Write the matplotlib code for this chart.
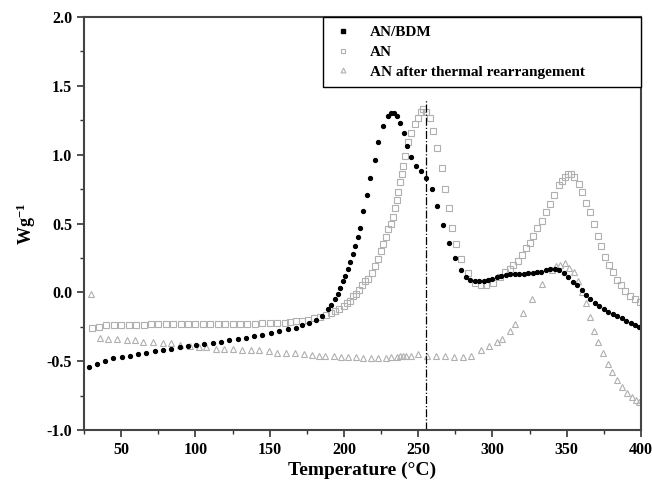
import numpy as np
import matplotlib.pyplot as plt
from matplotlib.lines import Line2D

plt.rcParams['font.family'] = ['Liberation Serif', 'DejaVu Serif']
plt.rcParams['font.weight'] = 'bold'
plt.rcParams['mathtext.default'] = 'regular'

# AN/BDM (filled black dots)
bdm_t = [28.6, 33.5, 39.0, 44.6, 50.2, 55.8, 61.4, 67.0, 72.5, 78.0, 83.6, 89.3,
         95.0, 100.5, 106.0, 111.6, 117.2, 122.8, 128.4, 134.0, 139.5, 145.0, 150.7,
         156.3, 162.0, 167.5, 172.0, 176.4, 181.0, 185.3, 189.3, 191.5, 193.8, 195.7,
         197.6, 199.5, 201.0, 202.5, 204.0, 205.8, 207.6, 209.3, 211.0, 213.0, 215.5,
         217.7, 220.6, 223.0, 226.6, 230.0, 232.0, 234.0, 236.0, 237.8, 240.6, 242.7,
         245.4, 248.7, 252.0, 255.0, 259.0, 263.0, 267.0, 271.0, 275.0, 279.0, 282.0,
         285.0, 288.0, 291.0, 294.0, 297.0, 300.0, 303.0, 306.0, 309.0, 312.0, 315.0,
         318.0, 321.0, 324.0, 327.0, 330.0, 333.0, 336.0, 339.0, 342.0, 345.0, 348.0,
         351.0, 354.0, 357.0, 360.0, 363.0, 366.0, 369.0, 372.0, 375.0, 378.0, 381.0,
         384.0, 387.0, 390.0, 393.0, 396.0, 399.0]
bdm_v = [-0.54, -0.52, -0.50, -0.48, -0.47, -0.46, -0.45, -0.44, -0.43, -0.42, -0.41, -0.40,
         -0.39, -0.38, -0.375, -0.37, -0.36, -0.35, -0.34, -0.33, -0.32, -0.31, -0.295,
         -0.28, -0.27, -0.26, -0.24, -0.22, -0.20, -0.17, -0.12, -0.09, -0.05, -0.01,
         0.03, 0.08, 0.12, 0.17, 0.22, 0.28, 0.34, 0.40, 0.47, 0.59, 0.71,
         0.83, 0.96, 1.09, 1.21, 1.28, 1.30, 1.30, 1.28, 1.23, 1.16, 1.06,
         0.98, 0.92, 0.88, 0.83, 0.75, 0.63, 0.49, 0.36, 0.25, 0.16, 0.11,
         0.09, 0.08, 0.08, 0.085, 0.09, 0.10, 0.11, 0.12, 0.125, 0.13, 0.13,
         0.135, 0.135, 0.14, 0.14, 0.145, 0.15, 0.16, 0.17, 0.17, 0.16, 0.14,
         0.11, 0.075, 0.05, 0.02, -0.02, -0.05, -0.075, -0.10, -0.12, -0.14, -0.16,
         -0.175, -0.19, -0.21, -0.225, -0.24, -0.255]

# AN (open grey squares)
an_t = [30, 35, 40, 45, 50, 55, 60, 65, 70, 75, 80, 85, 90, 95, 100, 105, 110, 115,
        120, 125, 130, 135, 140, 145, 150, 155, 160, 164, 168, 172, 176, 180, 184,
        188, 191, 194, 197, 200, 202, 204, 206, 208, 210, 212, 214, 216, 218.8, 221,
        223, 225, 226.6, 228.5, 230, 231.6, 233.3, 234.5, 235.5, 236.6, 237.8, 238.8,
        239.8, 241.3, 243, 245.4, 248, 250, 251.7, 253.4, 255.5, 257.8, 260, 263,
        265.7, 268, 270.6, 273, 275.7, 279, 283.5, 288, 292.4, 296, 300.7, 305.2,
        308.5, 311.5, 314, 316.9, 319.8, 322.7, 325.4, 327.6, 330.3, 333.3, 336.2,
        338.9, 341.6, 344.5, 346.7, 348.6, 350.6, 352.6, 354.6, 358, 360.2, 363.1,
        365.8, 368.5, 370.8, 373, 376, 378.2, 381.1, 383.8, 386.5, 389.4, 392.8,
        396.2, 399.6]
an_v = [-0.26, -0.25, -0.24, -0.24, -0.235, -0.235, -0.235, -0.235, -0.23, -0.23, -0.23,
        -0.23, -0.23, -0.23, -0.23, -0.23, -0.23, -0.23, -0.23, -0.23, -0.23, -0.23,
        -0.23, -0.225, -0.225, -0.22, -0.22, -0.215, -0.21, -0.21, -0.20, -0.19, -0.18,
        -0.165, -0.15, -0.135, -0.12, -0.10, -0.08, -0.06, -0.03, -0.01, 0.02, 0.05,
        0.08, 0.10, 0.14, 0.19, 0.24, 0.30, 0.35, 0.40, 0.46, 0.50, 0.55, 0.61, 0.67,
        0.73, 0.80, 0.86, 0.92, 0.99, 1.09, 1.16, 1.22, 1.27, 1.31, 1.33, 1.31, 1.27,
        1.17, 1.05, 0.90, 0.75, 0.61, 0.47, 0.35, 0.24, 0.14, 0.07, 0.05, 0.05, 0.07,
        0.11, 0.15, 0.17, 0.20, 0.23, 0.27, 0.32, 0.36, 0.41, 0.47, 0.52, 0.58, 0.64,
        0.71, 0.78, 0.81, 0.84, 0.86, 0.86, 0.84, 0.79, 0.73, 0.65, 0.58, 0.50, 0.41,
        0.34, 0.26, 0.20, 0.15, 0.09, 0.05, 0.01, -0.03, -0.05, -0.07]

# AN after thermal rearrangement (open grey triangles)
tr_t = [29.5, 35.7, 41.3, 46.9, 53.6, 59, 64.6, 71.3, 78, 83.6, 89.3, 96, 102.7, 107,
        113.7, 119.3, 125, 131.6, 137.2, 142.8, 149.5, 155, 160.7, 167, 173, 178.5, 183,
        187.5, 193, 198, 203, 208, 213, 218, 223, 228, 232, 236, 238, 240, 242, 245, 250,
        256, 262, 268, 274, 280, 285.5, 292.4, 298, 303, 306.3, 312, 315.3, 320.9, 326.5,
        333.3, 340, 343, 345.6, 349, 351.9, 354.6, 357.5, 360.2, 363.1, 365.8, 368.5,
        371.4, 374.4, 377.5, 380.4, 383.8, 387.2, 390.6, 394, 396.5, 399]
tr_v = [-0.01, -0.33, -0.34, -0.34, -0.35, -0.35, -0.36, -0.36, -0.37, -0.37, -0.38, -0.39,
        -0.40, -0.40, -0.41, -0.41, -0.41, -0.42, -0.42, -0.42, -0.43, -0.44, -0.44, -0.44,
        -0.45, -0.455, -0.46, -0.46, -0.465, -0.47, -0.47, -0.47, -0.475, -0.475, -0.475,
        -0.475, -0.47, -0.47, -0.465, -0.465, -0.46, -0.46, -0.445, -0.46, -0.465, -0.465,
        -0.47, -0.47, -0.46, -0.42, -0.39, -0.36, -0.34, -0.28, -0.23, -0.15, -0.05, 0.06,
        0.16, 0.19, 0.20, 0.21, 0.18, 0.15, 0.08, 0.00, -0.08, -0.18, -0.28, -0.36, -0.44,
        -0.52, -0.58, -0.64, -0.69, -0.73, -0.76, -0.78, -0.80]

marker_line_t = 255

fig = plt.figure(figsize=(6.52, 4.88), dpi=100)
ax = fig.add_axes([0.129, 0.119, 0.854, 0.846])

grey = '#b0b0b0'
ax.plot(tr_t, tr_v, linestyle='none', marker='^', markersize=4.2, markerfacecolor='none',
        markeredgecolor=grey, markeredgewidth=0.8)
ax.plot(an_t, an_v, linestyle='none', marker='s', markersize=3.8, markerfacecolor='none',
        markeredgecolor=grey, markeredgewidth=0.8)
ax.plot(bdm_t, bdm_v, linestyle='none', marker='o', markersize=2.8, color='black')
ax.plot([marker_line_t, marker_line_t], [-1.0, 1.4], color='black', linestyle='-.',
        linewidth=0.9)

ax.set_xlim(25, 400)
ax.set_ylim(-1.0, 2.0)
ax.set_xticks(np.arange(50, 401, 50))
ax.set_xticks(np.arange(25, 401, 25), minor=True)
ax.set_yticks(np.arange(-1.0, 2.01, 0.5))
ax.set_yticks(np.arange(-1.0, 2.01, 0.25), minor=True)
ax.set_yticklabels([f'{v:.1f}' for v in np.arange(-1.0, 2.01, 0.5)])
ax.tick_params(axis='both', which='major', direction='out', length=5, width=1.2,
               labelsize=11.5, colors='#333333')
ax.tick_params(axis='both', which='minor', direction='out', length=3, width=1.0,
               colors='#333333')
ax.tick_params(labelcolor='black')
for s in ax.spines.values():
    s.set_linewidth(1.5)
    s.set_color('#444444')

ax.set_xlabel('Temperature (°C)', fontsize=14, fontweight='bold', labelpad=3)
ax.set_ylabel('Wg$^{-1}$', fontsize=13, fontweight='bold', labelpad=6)

handles = [
    Line2D([], [], linestyle='none', marker='s', markersize=3, color='black'),
    Line2D([], [], linestyle='none', marker='s', markersize=3.5, markerfacecolor='none',
           markeredgecolor=grey, markeredgewidth=0.8),
    Line2D([], [], linestyle='none', marker='^', markersize=3.5, markerfacecolor='none',
           markeredgecolor=grey, markeredgewidth=0.8),
]
labels = ['AN/BDM', 'AN', 'AN after thermal rearrangement']
leg = ax.legend(handles, labels, loc='upper left', bbox_to_anchor=(0.429, 0.0, 0.571, 1.0),
                mode='expand', borderaxespad=0, frameon=True, fancybox=False,
                edgecolor='black', framealpha=1, borderpad=0.55, labelspacing=0.4,
                handlelength=1.5, handletextpad=1.0, prop={'size': 11, 'weight': 'bold'})
leg.get_frame().set_linewidth(1.0)

fig.savefig('out.png', dpi=100)
